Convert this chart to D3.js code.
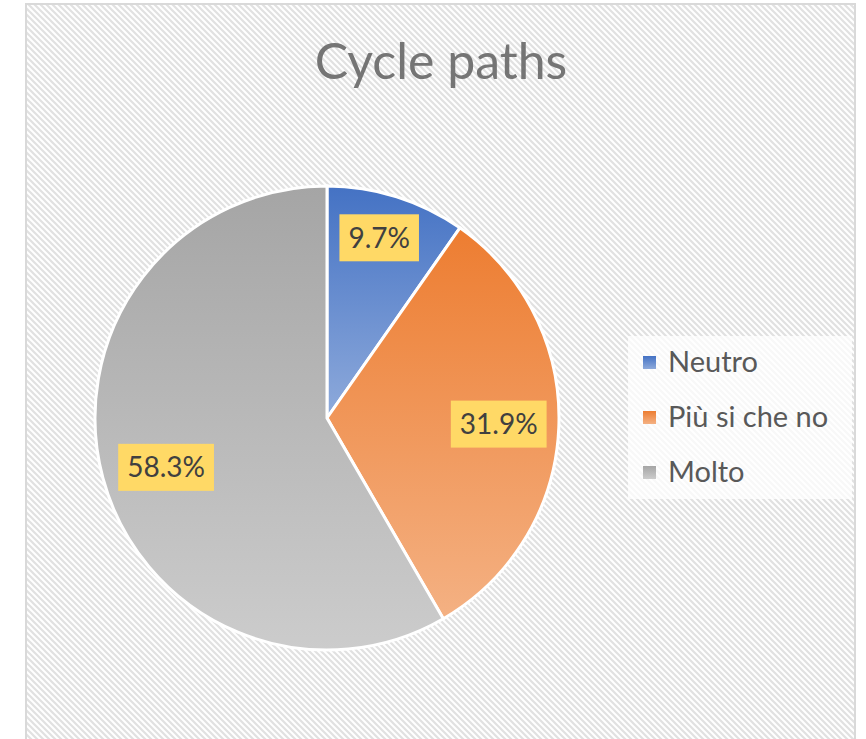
<!DOCTYPE html>
<html>
<head>
<meta charset="utf-8">
<script src="https://cdn.jsdelivr.net/npm/d3@7"></script>
<style>
  body { margin: 0; background: #fff; }
</style>
</head>
<body>
<svg width="866" height="739"></svg>
<script>
var labels = ["Neutro", "Più si che no", "Molto"];
var values = [9.7, 31.9, 58.3];
var topColors = ["#4472c4", "#ed7d31", "#a5a5a5"];
var bottomColors = ["#8eaadb", "#f4b183", "#cccccc"];

var svg = d3.select("svg");
var defs = svg.append("defs");

// diagonal hatch background
var pat = defs.append("pattern")
    .attr("id", "hatch")
    .attr("patternUnits", "userSpaceOnUse")
    .attr("width", 6).attr("height", 6);
pat.append("rect").attr("width", 6).attr("height", 6).attr("fill", "#fff");
pat.append("path")
    .attr("d", "M-1,-1 L7,7 M-4,2 L4,10 M2,-4 L10,4")
    .attr("stroke", "#e1e1e1")
    .attr("stroke-width", 2.2);

svg.append("rect")
    .attr("x", 26).attr("y", 4)
    .attr("width", 829).attr("height", 745)
    .attr("fill", "url(#hatch)")
    .attr("stroke", "#d9d9d9")
    .attr("stroke-width", 2);

svg.append("text")
    .attr("x", 441).attr("y", 79)
    .attr("text-anchor", "middle")
    .style("font", "50px Lato, 'Open Sans', sans-serif")
    .attr("fill", "#757575")
    .text("Cycle paths");

values.forEach(function(v, i) {
  var gr = defs.append("linearGradient")
      .attr("id", "grad" + i)
      .attr("x1", 0).attr("y1", 0).attr("x2", 0).attr("y2", 1);
  gr.append("stop").attr("offset", "0%").attr("stop-color", topColors[i]);
  gr.append("stop").attr("offset", "100%").attr("stop-color", bottomColors[i]);
});

var cx = 327, cy = 418, radius = 232;
var pie = d3.pie().sort(null).value(function(d) { return d; });
var arc = d3.arc().innerRadius(0).outerRadius(radius);
var labelArc = d3.arc().innerRadius(radius * 0.62).outerRadius(radius * 0.62);

var arcs = pie(values);
var g = svg.append("g").attr("transform", "translate(" + cx + "," + cy + ")");

g.selectAll("path.slice")
    .data(arcs)
    .enter().append("path")
    .attr("class", "slice")
    .attr("d", arc)
    .attr("fill", function(d, i) { return "url(#grad" + i + ")"; })
    .attr("stroke", "#fff")
    .attr("stroke-width", 3);

// data labels, nudged to match the chart's label placement
var offsets = [[9, -43], [28, 0], [-22, 12]];

var lab = g.selectAll("g.lab")
    .data(arcs)
    .enter().append("g")
    .attr("class", "lab")
    .attr("transform", function(d, i) {
      var p = labelArc.centroid(d);
      return "translate(" + (p[0] + offsets[i][0]) + "," + (p[1] + offsets[i][1]) + ")";
    });

lab.each(function(d, i) {
  var sel = d3.select(this);
  var t = sel.append("text")
      .attr("text-anchor", "middle")
      .attr("dy", "0.36em")
      .style("font", "28px Lato, 'Open Sans', sans-serif")
      .attr("fill", "#404040")
      .text(values[i].toFixed(1) + "%");
  var bb = t.node().getBBox();
  sel.insert("rect", "text")
      .attr("x", bb.x - 9).attr("y", -23.5)
      .attr("width", bb.width + 18).attr("height", 47)
      .attr("fill", "#ffd966");
});

// legend
var legend = svg.append("g");
legend.append("rect")
    .attr("x", 628).attr("y", 336)
    .attr("width", 224).attr("height", 163)
    .attr("fill", "#fff").attr("opacity", 0.75);

var ly = d3.scalePoint().domain(labels).range([362, 472]);
var item = legend.selectAll("g.item")
    .data(labels)
    .enter().append("g")
    .attr("class", "item")
    .attr("transform", function(d) { return "translate(643," + ly(d) + ")"; });

item.append("rect")
    .attr("x", 0).attr("y", -6)
    .attr("width", 13).attr("height", 13)
    .attr("fill", function(d, i) { return "url(#grad" + i + ")"; });

item.append("text")
    .attr("x", 25)
    .attr("dy", "0.35em")
    .style("font", "29px Lato, 'Open Sans', sans-serif")
    .attr("fill", "#595959")
    .text(function(d) { return d; });
</script>
</body>
</html>
